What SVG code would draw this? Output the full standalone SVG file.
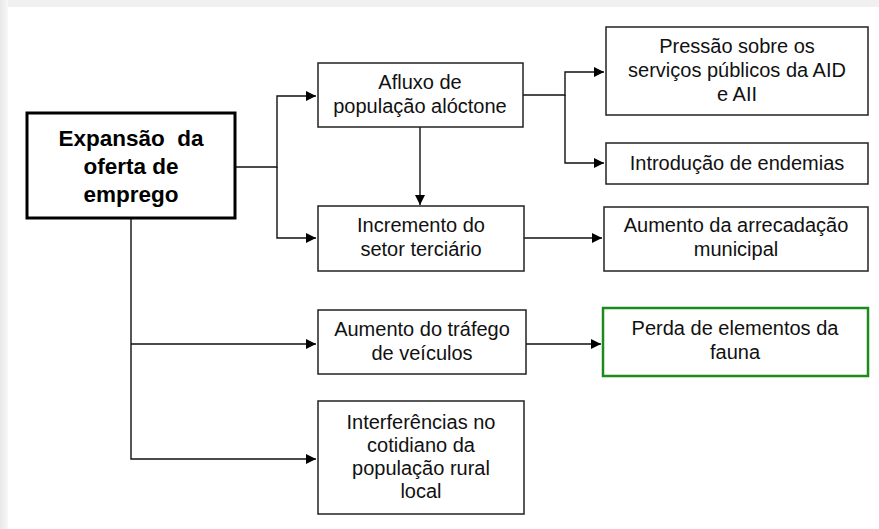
<svg xmlns="http://www.w3.org/2000/svg" width="879" height="529" viewBox="0 0 879 529">
<style>
.box{fill:#fff;stroke:#222;stroke-width:1.5}
.main{fill:#fff;stroke:#000;stroke-width:3}
.green{fill:#fff;stroke:#1e8a1e;stroke-width:2.5}
.t{font-family:"Liberation Sans",Arial,sans-serif;font-size:20px;fill:#111;text-anchor:middle}
.tb{font-family:"Liberation Sans",Arial,sans-serif;font-size:22.5px;font-weight:bold;fill:#000;text-anchor:middle}
.c{fill:none;stroke:#111;stroke-width:1.4}
</style>
<defs>
<marker id="ar" viewBox="0 0 10 10" refX="10" refY="5" markerWidth="10" markerHeight="10" markerUnits="userSpaceOnUse" orient="auto">
<path d="M0,0 L10,5 L0,10 z" fill="#000"/>
</marker>
<linearGradient id="lg" x1="0" y1="0" x2="1" y2="0">
<stop offset="0" stop-color="#e8e8e8"/>
<stop offset="1" stop-color="#f8f8f8"/>
</linearGradient>
</defs>
<rect x="0" y="0" width="879" height="529" fill="#f0f0f0"/>
<rect x="0" y="0" width="8" height="529" fill="url(#lg)"/>
<rect x="8" y="7" width="871" height="522" fill="#fff"/>
<g id="connectors">
<path class="c" d="M235,167 H277 V96 H316" marker-end="url(#ar)"/>
<path class="c" d="M277,167 V238 H316" marker-end="url(#ar)"/>
<path class="c" d="M523,95 H565 V72 H604" marker-end="url(#ar)"/>
<path class="c" d="M565,95 V163 H604" marker-end="url(#ar)"/>
<path class="c" d="M420,127 V205" marker-end="url(#ar)"/>
<path class="c" d="M524,238 H602" marker-end="url(#ar)"/>
<path class="c" d="M131,218 V459 H316" marker-end="url(#ar)"/>
<path class="c" d="M131,344 H316" marker-end="url(#ar)"/>
<path class="c" d="M526,344 H601" marker-end="url(#ar)"/>
</g>
<g id="n-main">
<rect class="main" x="27" y="113" width="208" height="105"/>
<text class="tb" x="131" y="146" xml:space="preserve">Expansão  da</text>
<text class="tb" x="131" y="174">oferta de</text>
<text class="tb" x="131" y="202">emprego</text>
</g>
<g id="n-afluxo">
<rect class="box" x="318" y="63" width="205" height="64"/>
<text class="t" x="420" y="89">Afluxo de</text>
<text class="t" x="420" y="113">população alóctone</text>
</g>
<g id="n-pressao">
<rect class="box" x="606" y="27" width="262" height="88"/>
<text class="t" x="737" y="53">Pressão sobre os</text>
<text class="t" x="737" y="77">serviços públicos da AID</text>
<text class="t" x="737" y="101">e AII</text>
</g>
<g id="n-endemias">
<rect class="box" x="606" y="143" width="262" height="41"/>
<text class="t" x="737" y="170">Introdução de endemias</text>
</g>
<g id="n-incremento">
<rect class="box" x="318" y="206" width="206" height="65"/>
<text class="t" x="421" y="232">Incremento do</text>
<text class="t" x="421" y="256">setor terciário</text>
</g>
<g id="n-arrecadacao">
<rect class="box" x="604" y="207" width="264" height="64"/>
<text class="t" x="736" y="232">Aumento da arrecadação</text>
<text class="t" x="736" y="256">municipal</text>
</g>
<g id="n-trafego">
<rect class="box" x="318" y="310" width="208" height="64"/>
<text class="t" x="422" y="336">Aumento do tráfego</text>
<text class="t" x="422" y="360">de veículos</text>
</g>
<g id="n-fauna">
<rect class="green" x="603" y="308" width="265" height="68"/>
<text class="t" x="735" y="335">Perda de elementos da</text>
<text class="t" x="735" y="359">fauna</text>
</g>
<g id="n-interferencias">
<rect class="box" x="318" y="401" width="206" height="113"/>
<text class="t" x="421" y="429">Interferências no</text>
<text class="t" x="421" y="452">cotidiano da</text>
<text class="t" x="421" y="475">população rural</text>
<text class="t" x="421" y="498">local</text>
</g>
</svg>
